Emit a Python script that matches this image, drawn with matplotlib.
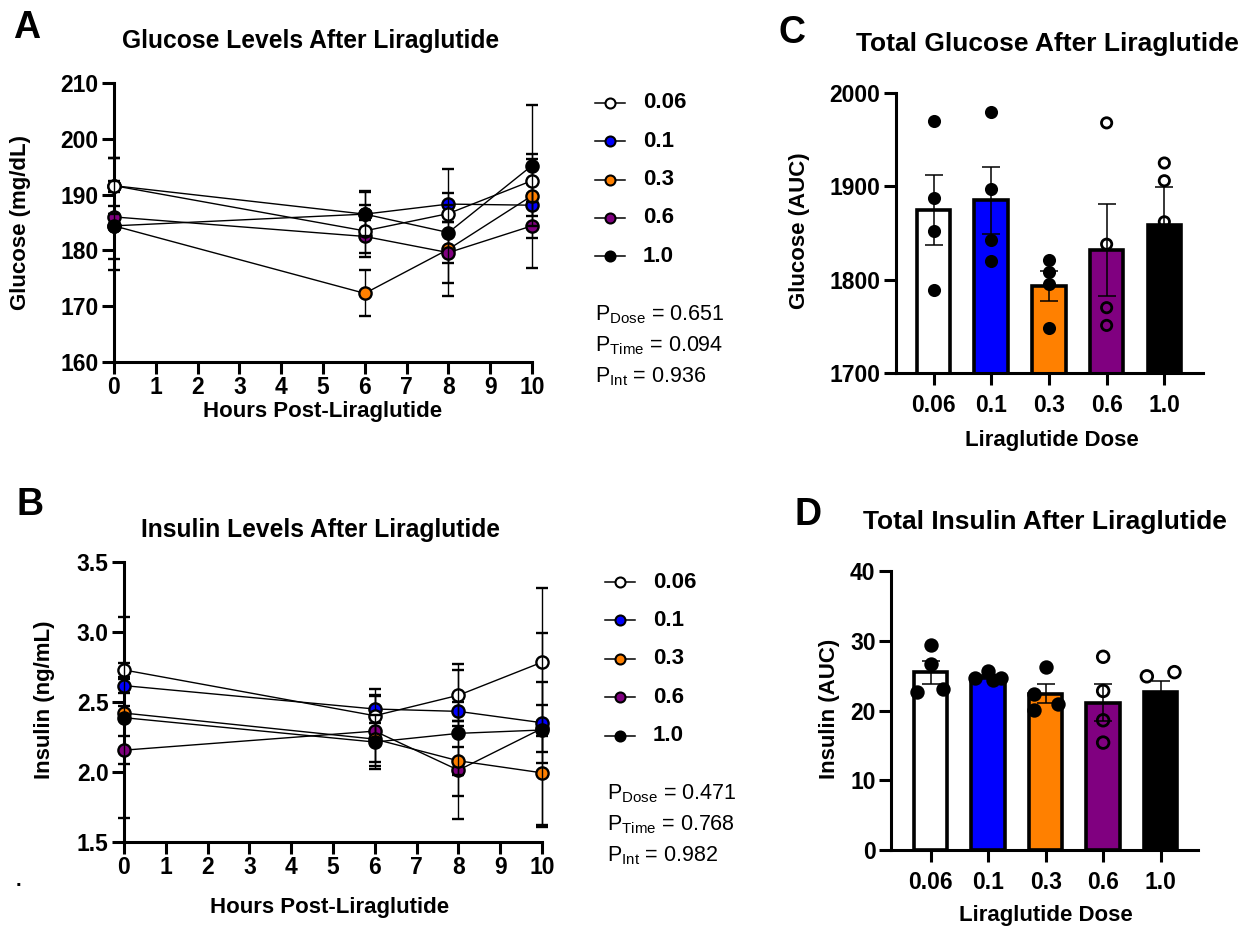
import numpy as np
import matplotlib
matplotlib.use("Agg")
import matplotlib.pyplot as plt
from matplotlib.lines import Line2D

plt.rcParams['font.family'] = ['Liberation Sans', 'DejaVu Sans']
plt.rcParams['font.weight'] = 'bold'
plt.rcParams['mathtext.fontset'] = 'custom'
plt.rcParams['mathtext.rm'] = 'Liberation Sans:weight=normal'
plt.rcParams['mathtext.it'] = 'Liberation Sans:italic:weight=normal'
plt.rcParams['mathtext.bf'] = 'Liberation Sans:bold'

# ---- data ----
hours = [0, 6, 8, 10]
doses = ['0.06', '0.1', '0.3', '0.6', '1.0']
colors = ['white', '#0000ff', '#ff8000', '#800080', 'black']

# glucose mean / SEM per dose over time (mg/dL)
glucose_mean = [[191.6, 183.5, 186.6, 192.5],
                [191.6, 186.5, 188.3, 188.1],
                [184.4, 172.3, 180.2, 189.8],
                [186.0, 182.5, 179.6, 184.4],
                [184.4, 186.5, 183.2, 195.2]]
glucose_sem = [[5.0, 4.6, 1.5, 3.9],
               [5.0, 4.1, 2.0, 2.0],
               [6.0, 4.1, 2.5, 7.5],
               [2.0, 3.0, 5.5, 7.5],
               [8.0, 4.0, 11.4, 10.9]]

# insulin mean / SEM per dose over time (ng/mL)
insulin_mean = [[2.729, 2.402, 2.548, 2.784],
                [2.617, 2.450, 2.433, 2.352],
                [2.421, 2.235, 2.080, 1.994],
                [2.156, 2.292, 2.013, 2.311],
                [2.388, 2.214, 2.276, 2.300]]
insulin_sem = [[0.05, 0.19, 0.22, 0.53],
               [0.05, 0.10, 0.07, 0.29],
               [0.05, 0.165, 0.10, 0.37],
               [0.10, 0.25, 0.35, 0.17],
               [0.72, 0.19, 0.45, 0.69]]

# AUC per animal
glucose_auc = [[1970, 1888, 1852, 1789],
               [1980, 1897, 1843, 1820],
               [1821, 1808, 1795, 1748],
               [1968, 1838, 1770, 1751],
               [1925, 1906, 1862, 1740]]
insulin_auc = [[29.4, 26.6, 22.7, 23.1],
               [25.6, 24.7, 24.4, 24.6],
               [26.2, 22.4, 20.1, 20.9],
               [27.7, 22.8, 18.6, 15.4],
               [24.9, 25.5, 21.0, 19.3]]

p_names = ['Dose', 'Time', 'Int']
glucose_p = ['0.651', '0.094', '0.936']
insulin_p = ['0.471', '0.768', '0.982']

# ---- layout helpers (pixels) ----
W, H = 1257, 931
fig = plt.figure(figsize=(W / 100, H / 100), dpi=100)

TICK_FS = 16.5
LABEL_FS = 16
LETTER_FS = 27


def fx(x):
    return x / W


def fy(y):
    return 1 - y / H


def box(l, t, r, b):
    return [l / W, 1 - b / H, (r - l) / W, (b - t) / H]


def style(ax, xpad):
    for s in ['top', 'right']:
        ax.spines[s].set_visible(False)
    for s in ['left', 'bottom']:
        ax.spines[s].set_linewidth(2.2)
    ax.tick_params(width=2.2, length=8.6, labelsize=TICK_FS, pad=2.5, colors='black')
    ax.tick_params(axis='x', pad=xpad)


def line_panel(ax, means, sems, ylim, yticks, yfmt, zorders):
    for i in range(5):
        ax.errorbar(hours, means[i], yerr=sems[i], color='black', lw=1.0,
                    elinewidth=1.0, capsize=4.5, capthick=1.0, marker='o',
                    ms=8.8, mfc=colors[i], mec='black', mew=1.7,
                    zorder=zorders[i], clip_on=False)
    ax.set_xlim(0, 10)
    ax.set_ylim(*ylim)
    ax.set_xticks(range(11))
    ax.set_yticks(yticks)
    ax.set_yticklabels([yfmt % v for v in yticks])
    style(ax, 1.5)


def bar_panel(ax, points, jitter, xlim, ylim, yticks, msize):
    x = np.arange(5)
    means = [np.mean(p) for p in points]
    sems = [np.std(p, ddof=1) / np.sqrt(len(p)) for p in points]
    ax.bar(x, means, width=0.58, color=colors, edgecolor='black',
           linewidth=2.6, zorder=2)
    ax.errorbar(x, means, yerr=sems, fmt='none', ecolor='black',
                elinewidth=1.1, capsize=6.5, capthick=1.1, zorder=3)
    for i, p in enumerate(points):
        fc = 'black' if i < 3 else 'none'
        ax.scatter(x[i] + np.array(jitter[i]), p, s=msize, facecolor=fc,
                   edgecolor='black', linewidths=2.0, zorder=4, clip_on=False)
    ax.set_xlim(*xlim)
    ax.set_ylim(*ylim)
    ax.set_xticks(x)
    ax.set_xticklabels(doses)
    ax.set_yticks(yticks)
    style(ax, 6.5)


def legend(x_mark, x_text, y0, dy):
    for i in range(5):
        y = y0 + i * dy
        fig.add_artist(Line2D([fx(x_mark - 15), fx(x_mark + 15)], [fy(y), fy(y)],
                              color='black', lw=1.1))
        fig.add_artist(Line2D([fx(x_mark)], [fy(y)], marker='o', ms=7.2,
                              mfc=colors[i], mec='black', mew=1.5))
        fig.text(fx(x_text), fy(y), doses[i], fontsize=16, va='center', ha='left')


def pvals(x, y0, dy, vals):
    for k, name in enumerate(p_names):
        fig.text(fx(x), fy(y0 + k * dy), r'P$_{\mathrm{%s}}$ = %s' % (name, vals[k]),
                 fontsize=15.5, fontweight='normal', va='baseline', ha='left')


# ---- A: glucose time course ----
axA = fig.add_axes(box(114, 83, 532, 362))
line_panel(axA, glucose_mean, glucose_sem, (160, 210), range(160, 211, 10), '%d',
           [7, 4, 5, 6, 8])
fig.text(fx(27), fy(28), 'A', fontsize=LETTER_FS, ha='center', va='center')
fig.text(fx(311), fy(41), 'Glucose Levels After Liraglutide', fontsize=17.7,
         ha='center', va='center')
fig.text(fx(21), fy(222), 'Glucose (mg/dL)', fontsize=LABEL_FS, rotation=90,
         ha='center', va='center')
fig.text(fx(323), fy(411), 'Hours Post-Liraglutide', fontsize=LABEL_FS,
         ha='center', va='center')
legend(610, 643, 103, 38.3)
pvals(595, 320, 31, glucose_p)

# ---- B: insulin time course ----
axB = fig.add_axes(box(124, 562, 542, 842))
line_panel(axB, insulin_mean, insulin_sem, (1.5, 3.5), [1.5, 2.0, 2.5, 3.0, 3.5],
           '%.1f', [7, 6, 5, 4, 8])
fig.text(fx(30), fy(505), 'B', fontsize=LETTER_FS, ha='center', va='center')
fig.text(fx(321), fy(530), 'Insulin Levels After Liraglutide', fontsize=17.7,
         ha='center', va='center')
fig.text(fx(45), fy(700), 'Insulin (ng/mL)', fontsize=LABEL_FS, rotation=90,
         ha='center', va='center')
fig.text(fx(330), fy(908), 'Hours Post-Liraglutide', fontsize=LABEL_FS,
         ha='center', va='center')
fig.text(fx(18), fy(880), '.', fontsize=14.5, ha='center', va='center')
legend(620, 653, 582, 38.4)
pvals(607, 799, 31, insulin_p)

# ---- C: glucose AUC ----
axC = fig.add_axes(box(896, 93, 1203, 373))
bar_panel(axC, glucose_auc, [[0] * 4] * 5, (-0.65, 4.67), (1700, 2000),
          [1700, 1800, 1900, 2000], 55)
fig.text(fx(792), fy(33), 'C', fontsize=LETTER_FS, ha='center', va='center')
fig.text(fx(1047), fy(44), 'Total Glucose After Liraglutide', fontsize=19,
         ha='center', va='center')
fig.text(fx(800), fy(231), 'Glucose (AUC)', fontsize=LABEL_FS, rotation=90,
         ha='center', va='center')
fig.text(fx(1052), fy(440), 'Liraglutide Dose', fontsize=LABEL_FS,
         ha='center', va='center')

# ---- D: insulin AUC ----
d_jitter = [[0, 0, -0.24, 0.22],
            [0, -0.23, 0.09, 0.23],
            [0, -0.21, -0.21, 0.22],
            [0, 0, 0, 0],
            [-0.24, 0.24, -0.1, 0.1]]
axD = fig.add_axes(box(891, 571, 1198, 850))
bar_panel(axD, insulin_auc, d_jitter, (-0.69, 4.65), (0, 40), [0, 10, 20, 30, 40], 70)
fig.text(fx(808), fy(515), 'D', fontsize=LETTER_FS, ha='center', va='center')
fig.text(fx(1045), fy(522), 'Total Insulin After Liraglutide', fontsize=19,
         ha='center', va='center')
fig.text(fx(829), fy(709), 'Insulin (AUC)', fontsize=LABEL_FS, rotation=90,
         ha='center', va='center')
fig.text(fx(1046), fy(916), 'Liraglutide Dose', fontsize=LABEL_FS,
         ha='center', va='center')

fig.savefig('out.png', dpi=100, facecolor='white')
